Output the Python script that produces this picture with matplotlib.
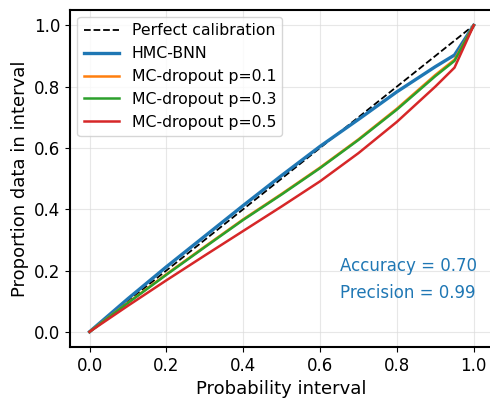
import matplotlib
matplotlib.use("Agg")
import matplotlib.pyplot as plt

prob_interval = [0.0, 0.1, 0.2, 0.3, 0.4, 0.5, 0.6, 0.7, 0.8, 0.9, 0.95, 1.0]
hmc_bnn = [0.0, 0.108, 0.212, 0.312, 0.412, 0.51, 0.605, 0.693, 0.783, 0.865, 0.903, 1.0]
mc_p01 = [0.0, 0.095, 0.188, 0.278, 0.367, 0.45, 0.536, 0.628, 0.728, 0.838, 0.888, 1.0]
mc_p03 = [0.0, 0.094, 0.186, 0.276, 0.365, 0.448, 0.534, 0.626, 0.725, 0.834, 0.884, 1.0]
mc_p05 = [0.0, 0.085, 0.168, 0.249, 0.329, 0.409, 0.491, 0.583, 0.685, 0.80, 0.862, 1.0]
accuracy = 0.70
precision = 0.99

fig = plt.figure(figsize=(4.9, 3.99), dpi=100)
ax = fig.add_axes([0.1435, 0.130, 0.8625, 0.845])

ax.plot([0, 1], [0, 1], 'k--', lw=1.3, label='Perfect calibration')
ax.plot(prob_interval, hmc_bnn, color='tab:blue', lw=2.4, label='HMC-BNN')
ax.plot(prob_interval, mc_p01, color='tab:orange', lw=1.8, label='MC-dropout p=0.1')
ax.plot(prob_interval, mc_p03, color='tab:green', lw=1.8, label='MC-dropout p=0.3')
ax.plot(prob_interval, mc_p05, color='tab:red', lw=1.8, label='MC-dropout p=0.5')

ax.set_xlim(-0.05, 1.05)
ax.set_ylim(-0.05, 1.05)
ax.grid(True, color='#dddddd', lw=0.8, alpha=0.7)
ax.tick_params(labelsize=12)
for s in ax.spines.values():
    s.set_linewidth(1.5)
ax.set_xlabel('Probability interval', fontsize=13)
ax.set_ylabel('Proportion data in interval', fontsize=13)

ax.text(0.652, 0.198, f'Accuracy = {accuracy:.2f}', color='tab:blue', fontsize=12)
ax.text(0.652, 0.110, f'Precision = {precision:.2f}', color='tab:blue', fontsize=12)

ax.legend(loc='upper left', fontsize=11.3, handlelength=2.25, borderaxespad=0.45)

fig.savefig('out.png', dpi=100)
